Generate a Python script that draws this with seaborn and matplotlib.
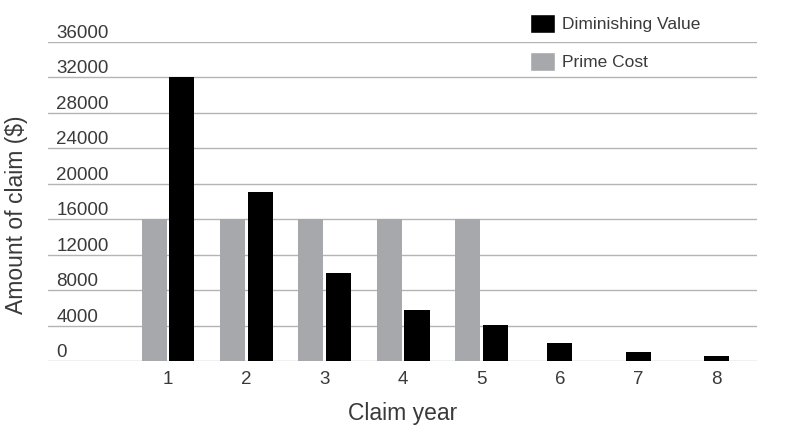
import pandas as pd
import matplotlib
matplotlib.use("Agg")
import matplotlib.pyplot as plt
from matplotlib.patches import Patch
import seaborn as sns

# values
years = ["1", "2", "3", "4", "5", "6", "7", "8"]
diminishing_value = [32000, 19100, 9900, 5750, 4050, 2000, 1000, 600]
prime_cost = [16000, 16000, 16000, 16000, 16000]
y_ticks = [0, 4000, 8000, 12000, 16000, 20000, 24000, 28000, 32000, 36000]

GRAY = "#a7a8ab"
BLACK = "#000000"
TEXT = "#3a3a3a"

sns.set_theme(style="white")
plt.rcParams["font.family"] = ["Liberation Sans", "DejaVu Sans"]

# years 1-5 have both methods, years 6-8 only diminishing value
paired = pd.DataFrame({
    "year": years[:5] * 2,
    "amount": prime_cost + diminishing_value[:5],
    "method": ["Prime Cost"] * 5 + ["Diminishing Value"] * 5,
})
single = pd.DataFrame({
    "year": years[5:],
    "amount": diminishing_value[5:],
})

fig = plt.figure(figsize=(8, 4.33), dpi=100)
ax = fig.add_axes([0.06, 0.1663, 0.886, 0.7367])

sns.barplot(
    data=paired, x="year", y="amount", hue="method", order=years,
    hue_order=["Prime Cost", "Diminishing Value"],
    palette=[GRAY, BLACK], width=0.71, gap=0.10, errorbar=None,
    saturation=1, legend=False, ax=ax,
)
sns.barplot(
    data=single, x="year", y="amount", order=years, color=BLACK,
    width=0.319, errorbar=None, saturation=1, ax=ax,
)
for p in ax.patches:
    p.set_linewidth(0)

ax.set_xlim(-1.531, 7.513)
ax.set_ylim(0, 36000)
ax.set_yticks(y_ticks)
ax.set_yticklabels([str(v) for v in y_ticks], ha="left", va="bottom")
ax.tick_params(axis="y", length=0, pad=-6, labelsize=13.5, labelcolor=TEXT)
ax.tick_params(axis="x", length=0, pad=7, labelsize=13.5, labelcolor=TEXT)

ax.grid(axis="y", color="#b4b4b4", linewidth=1)
ax.set_axisbelow(True)
for s in ax.spines.values():
    s.set_visible(False)

ax.set_xlabel("Claim year", fontsize=16.5, color=TEXT, labelpad=10)
ax.set_ylabel("Amount of claim ($)", fontsize=16.5, color=TEXT)
ax.yaxis.set_label_coords(-0.028, 0.46)

handles = [Patch(facecolor=BLACK, label="Diminishing Value"),
           Patch(facecolor=GRAY, label="Prime Cost")]
fig.legend(handles=handles, loc="upper left", bbox_to_anchor=(0.652, 0.988),
           frameon=False, fontsize=12.5, handlelength=1.45, handleheight=1.35,
           handletextpad=0.4, labelspacing=1.05, borderpad=0,
           labelcolor=TEXT)

fig.savefig("out.png", dpi=100)
